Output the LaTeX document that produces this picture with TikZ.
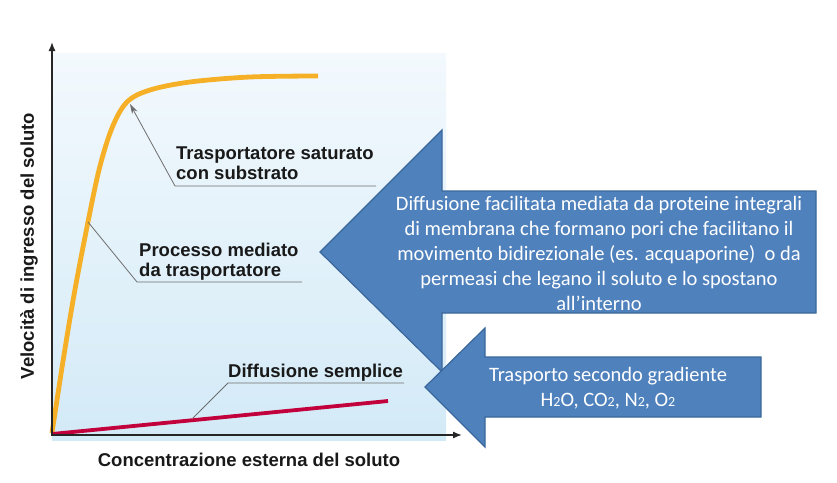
\documentclass[tikz,border=0pt]{standalone}
\usepackage{fontspec}
\setmainfont{Liberation Sans}
\newfontfamily\calib{Carlito}
\usetikzlibrary{arrows.meta}
\definecolor{bgtop}{HTML}{F3F9FD}
\definecolor{bgbot}{HTML}{D3EAF7}
\definecolor{curveY}{HTML}{F5B027}
\definecolor{curveR}{HTML}{C2003C}
\definecolor{arrfill}{HTML}{4F81BD}
\definecolor{arrdraw}{HTML}{3A679B}
\definecolor{leadgray}{HTML}{6E6E6E}
\tikzset{
  lbl/.style={font=\bfseries\fontsize{18.5}{20}\selectfont, text=black!90, align=left, inner sep=0pt, anchor=north west},
  axlbl/.style={font=\bfseries\fontsize{18.5}{20}\selectfont, text=black!90, inner sep=0pt},
  leader/.style={leadgray, line width=0.8pt},
  bigarrow/.style={fill=arrfill, draw=arrdraw, line width=1.2pt, line join=miter},
  arrtext/.style={text=white, font=\calib\fontsize{20.5}{25}\selectfont, align=center, inner sep=0pt},
  axis/.style={line width=1.4pt, black!85, -{Latex[length=9pt,width=7pt]}}
}
\newcommand{\sub}[1]{{\fontsize{14}{14}\selectfont #1}}
\begin{document}
\begin{tikzpicture}[x=1pt,y=-1pt]
\useasboundingbox (0,0) rectangle (837,482);
\fill[white] (0,0) rectangle (837,482);
% plot background
\shade[top color=bgtop, bottom color=bgbot] (52,53) rectangle (446,440);
% curves
\draw[curveY, line width=4.8pt, line cap=butt] plot[smooth, tension=0.55] coordinates {(52,433) (57,400) (64,355) (74,295) (86,232) (99,170) (112,128) (127,102) (150,90) (190,82) (250,77) (318,76)};
\draw[curveR, line width=3.8pt] (52,434) -- (388,401);
% axes
\draw[axis] (52,435) -- (52,42);
\draw[axis] (51,435) -- (462,435);
% labels
\node[lbl] (sat) at (176,147) {Trasportatore saturato\\con substrato};
\coordinate (satU1) at (175,186);
\coordinate (satU2) at (376,186);
\coordinate (satT) at (130,104);
\draw[leader, -{Stealth[length=10pt,width=6pt]}] (satU2) -- (satU1) -- (satT);
\node[lbl] (proc) at (139,243) {Processo mediato\\da trasportatore};
\coordinate (procU1) at (137,282);
\coordinate (procU2) at (302,282);
\coordinate (procT) at (88,222);
\draw[leader] (procU2) -- (procU1) -- (procT);
\node[lbl] (diff) at (228,364) {Diffusione semplice};
\coordinate (diffU1) at (228,383);
\coordinate (diffU2) at (404,383);
\coordinate (diffT) at (193,418);
\draw[leader] (diffU2) -- (diffU1) -- (diffT);
% axis titles
\node[axlbl, rotate=90] (ylab) at (29,246) {Velocità di ingresso del soluto};
\node[axlbl] (xlab) at (249,460) {Concentrazione esterna del soluto};
% big arrows
\draw[bigarrow] (320,252) -- (442,130) -- (442,191) -- (816,191) -- (816,313) -- (442,313) -- (442,372) -- cycle;
\node[arrtext] (bigtxt) at (599,253) {Diffusione facilitata mediata da proteine integrali\\di membrana che formano pori che facilitano il\\movimento bidirezionale (es. acquaporine)\ \ o da\\permeasi che legano il soluto e lo spostano\\all’interno};
\draw[bigarrow] (425,387) -- (485,328) -- (485,357) -- (761,357) -- (761,417) -- (485,417) -- (485,447) -- cycle;
\node[arrtext] (smalltxt) at (608,388) {Trasporto secondo gradiente\\H\sub{2}O, CO\sub{2}, N\sub{2}, O\sub{2}};
\end{tikzpicture}
\end{document}
